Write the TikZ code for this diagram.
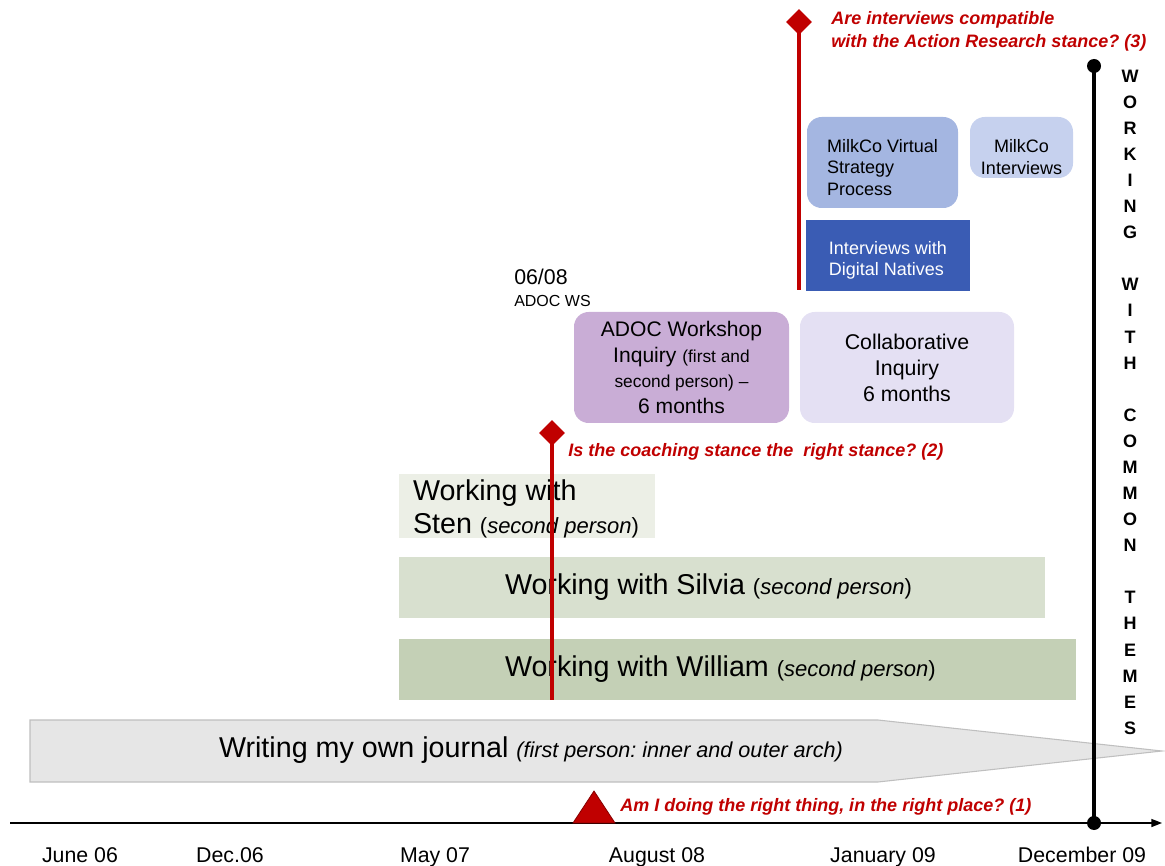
\documentclass[tikz,border=0pt]{standalone}
\usepackage{fontspec}
\setmainfont{Liberation Sans}
\usetikzlibrary{arrows.meta,shapes.geometric}
\frenchspacing

\definecolor{qred}{HTML}{C00000}
\definecolor{journalfill}{HTML}{E6E6E6}
\definecolor{journalline}{HTML}{BFBFBF}
\definecolor{stenfill}{HTML}{ECEFE6}
\definecolor{silviafill}{HTML}{D8E0CF}
\definecolor{williamfill}{HTML}{C4D0B6}
\definecolor{adocfill}{HTML}{C9ADD6}
\definecolor{collabfill}{HTML}{E4E0F3}
\definecolor{virtualfill}{HTML}{A4B6E1}
\definecolor{mcintfill}{HTML}{C6D1EE}
\definecolor{nativesfill}{HTML}{3A5CB4}

% parenthetical remark in smaller italic
\newcommand\pnote[1]{{\fontsize{16.5}{20}\selectfont(\textit{#1})}}

\begin{document}
\begin{tikzpicture}[x=0.75pt,y=-0.75pt,
  band/.style={inner sep=0pt, align=flush left, font=\fontsize{21.5}{24.75}\selectfont},
  roundbox/.style={rounded corners=11pt, inner ysep=0pt},
  bigtext/.style={font=\fontsize{15.8}{19.3}\selectfont, align=center},
  smalltext/.style={font=\fontsize{13.5}{16.2}\selectfont},
  question/.style={text=qred, font=\bfseries\itshape\fontsize{13.5}{17.25}\selectfont, inner sep=0pt},
  redline/.style={draw=qred, line width=3pt},
  marker/.style={diamond, fill=qred, minimum size=19.5pt, inner sep=0pt},
  dot/.style={circle, fill=black, minimum size=10.5pt, inner sep=0pt},
  datelabel/.style={font=\fontsize{16}{19}\selectfont, anchor=base, inner sep=0pt}]
\useasboundingbox (0,0) rectangle (1165,866);

% journal arrow (first person)
\coordinate (jA) at (30,720);
\coordinate (jB) at (878,720);
\coordinate (jTip) at (1162,751);
\coordinate (jC) at (878,782);
\coordinate (jD) at (30,782);
\draw[draw=journalline, fill=journalfill, line width=0.8pt] (jA) -- (jB) -- (jTip) -- (jC) -- (jD) -- cycle;
\node[font=\fontsize{21.5}{24}\selectfont] (journal) at (531,750)
  {Writing my own journal \textit{\fontsize{16.2}{19}\selectfont(first person: inner and outer arch)}};

% time axis
\coordinate (axL) at (10,823);
\coordinate (axR) at (1162,823);
\draw[line width=1.1pt, -{Triangle[length=8pt,width=6pt]}] (axL) -- (axR);

\node[datelabel] (d1) at (80,862) {June 06};
\node[datelabel] (d2) at (230,862) {Dec.06};
\node[datelabel] (d3) at (435,862) {May 07};
\node[datelabel] (d4) at (657,862) {August 08};
\node[datelabel] (d5) at (883,862) {January 09};
\node[datelabel] (d6) at (1082,862) {December 09};

% second person bands
\node[band, fill=stenfill, text width=192pt, minimum height=46.5pt] (sten) at (527,506)
  {\rule{0pt}{19.5pt}\hspace*{10.5pt}Working with\\\hspace*{10.5pt}Sten \pnote{second person}};
\node[band, fill=silviafill, text width=484.5pt, minimum height=45.75pt] (silvia) at (722,587.5)
  {\hspace*{79.5pt}Working with Silvia \pnote{second person}};
\node[band, fill=williamfill, text width=507.75pt, minimum height=45.75pt] (william) at (737.5,669.5)
  {\hspace*{79.5pt}Working with William \pnote{second person}};

% inquiry boxes
\node[roundbox, bigtext, fill=adocfill, minimum width=161.25pt, minimum height=83.25pt] (adoc) at (681.5,367.5)
  {ADOC Workshop\\Inquiry {\fontsize{13}{19.3}\selectfont(first and}\\{\fontsize{13}{19.3}\selectfont second person) --}\\6 months};
\node[roundbox, bigtext, font=\fontsize{16}{19.5}\selectfont, fill=collabfill, minimum width=160.5pt, minimum height=83.25pt] (collab) at (907,367.5)
  {Collaborative\\Inquiry\\6 months};
\node[anchor=base west, inner sep=0pt, font=\fontsize{16}{19}\selectfont] (ws) at (514,285) {06/08};
\node[anchor=base west, inner sep=0pt, font=\fontsize{12}{14}\selectfont] (wslabel) at (514,307) {ADOC WS};

% MilkCo work
\node[roundbox, smalltext, fill=virtualfill, align=left, minimum width=113.25pt, minimum height=68.25pt, inner xsep=0pt] (virtual) at (882.5,162.5)
  {\rule{0pt}{17pt}MilkCo Virtual\\Strategy\\Process};
\node[roundbox, smalltext, fill=mcintfill, align=center, minimum width=77.25pt, minimum height=45.75pt, inner xsep=0pt] (mcint) at (1021.5,147.5)
  {\rule{0pt}{24pt}MilkCo\\Interviews};
\node[smalltext, fill=nativesfill, text=white, align=left, minimum width=123pt, inner xsep=0pt, inner ysep=0pt, minimum height=53.25pt] (natives) at (888,255.5)
  {\rule{0pt}{17pt}Interviews with\\Digital Natives};

% question (1)
\coordinate (q1) at (594,823);
\filldraw[fill=qred, draw=qred!70!black, line width=0.6pt] (q1) ++(-21,0) -- ++(21,-32) -- ++(21,32) -- cycle;
\node[question, anchor=base west] (q1text) at (620,811) {Am I doing the right thing, in the right place? (1)};

% question (2)
\node[marker] (q2) at (552,433) {};
\coordinate (q2end) at (552,700);
\draw[redline] (q2.center) -- (q2end);
\node[question, anchor=base west] (q2text) at (568,456) {Is the coaching stance the\ \ right stance? (2)};

% question (3)
\node[marker] (q3) at (799,22) {};
\coordinate (q3end) at (799,290);
\draw[redline] (q3.center) -- (q3end);
\node[question, anchor=north west, align=left] (q3text) at (831,11)
  {Are interviews compatible\\with the Action Research stance? (3)};

% common themes line
\node[dot] (thTop) at (1094,66) {};
\node[dot] (thBot) at (1094,823) {};
\draw[line width=3pt] (thTop.center) -- (thBot.center);
\node[anchor=north, inner sep=0pt, align=center, font=\bfseries\fontsize{13.5}{19.56}\selectfont] (themes) at (1130,69.6)
  {W\\O\\R\\K\\I\\N\\G\\\mbox{}\\W\\I\\T\\H\\\mbox{}\\C\\O\\M\\M\\O\\N\\\mbox{}\\T\\H\\E\\M\\E\\S};
\end{tikzpicture}
\end{document}
